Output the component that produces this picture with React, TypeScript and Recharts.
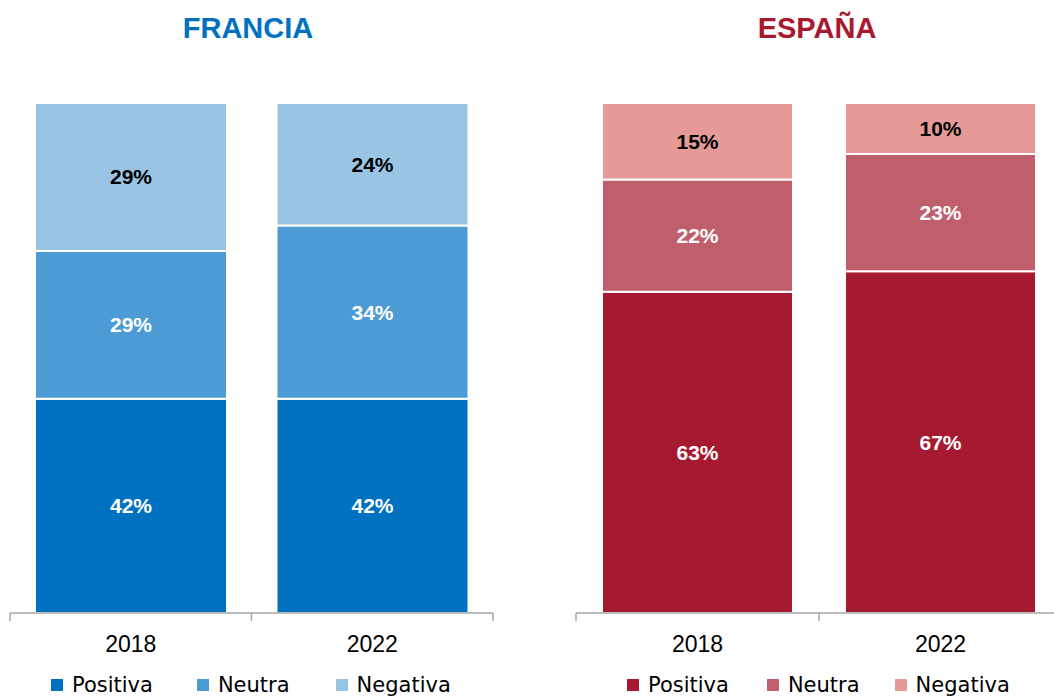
import React from "react";
import { BarChart, Bar, XAxis, YAxis, LabelList } from "recharts";

const years = ["2018", "2022"];
const seriesNames = ["Positiva", "Neutra", "Negativa"];

const franciaPositiva = [42, 42];
const franciaNeutra = [29, 34];
const franciaNegativa = [29, 24];

const espanaPositiva = [63, 67];
const espanaNeutra = [22, 23];
const espanaNegativa = [15, 10];

const blue = ["#0070C0", "#4C9BD4", "#9AC4E4"];
const red = ["#A51931", "#C05F6C", "#E59A98"];
const labelFill = ["#ffffff", "#ffffff", "#000000"];

const AXIS_GRAY = "#A6A6A6";
const H = 696;

type PanelProps = {
  title: string;
  titleColor: string;
  titleCenter: number;
  colors: string[];
  positiva: number[];
  neutra: number[];
  negativa: number[];
  left: number;
  width: number;
  marginLeft: number;
  marginRight: number;
  gap: number;
  legendLeft: number;
  legendGaps: number[];
};

function Panel(p: PanelProps) {
  const data = years.map((y, i) => ({
    year: y,
    Positiva: p.positiva[i],
    Neutra: p.neutra[i],
    Negativa: p.negativa[i],
  }));
  const plotWidth = p.width - p.marginLeft - p.marginRight;
  const band = plotWidth / years.length;

  const Tick = (props: any) => {
    const { x, y, payload, index } = props;
    const edge = x - band / 2;
    return (
      <g>
        <line x1={edge} y1={y} x2={edge} y2={y + 8} stroke={AXIS_GRAY} strokeWidth={1.5} />
        {index === years.length - 1 && (
          <line x1={x + band / 2} y1={y} x2={x + band / 2} y2={y + 8} stroke={AXIS_GRAY} strokeWidth={1.5} />
        )}
        <text
          x={x}
          y={y + 31}
          textAnchor="middle"
          dominantBaseline="central"
          fontFamily="'Liberation Sans', Arial, sans-serif"
          fontSize={23}
          fill="#000"
        >
          {payload.value}
        </text>
      </g>
    );
  };

  return (
    <div style={{ position: "absolute", left: p.left, top: 0, width: p.width, height: H }}>
      <div
        style={{
          position: "absolute",
          top: 11,
          left: p.titleCenter - p.left - 150,
          width: 300,
          textAlign: "center",
          fontFamily: "'Liberation Sans', Arial, sans-serif",
          fontWeight: 700,
          fontSize: 29,
          lineHeight: "35px",
          color: p.titleColor,
        }}
      >
        {p.title}
      </div>
      <BarChart
        width={p.width}
        height={H}
        data={data}
        margin={{ top: 103, right: p.marginRight, bottom: 43, left: p.marginLeft }}
        barCategoryGap={p.gap}
      >
        <XAxis
          dataKey="year"
          height={40}
          axisLine={{ stroke: AXIS_GRAY, strokeWidth: 1.5 }}
          tickLine={false}
          tickSize={0}
          tickMargin={0}
          tick={<Tick />}
          interval={0}
        />
        <YAxis hide domain={[0, 100]} />
        {seriesNames.map((name, i) => (
          <Bar
            key={name}
            dataKey={name}
            stackId="a"
            fill={p.colors[i]}
            stroke="#ffffff"
            strokeWidth={2}
            isAnimationActive={false}
          >
            <LabelList
              dataKey={name}
              position="center"
              formatter={(v: any) => `${v}%`}
              fill={labelFill[i]}
              fontFamily="'Liberation Sans', Arial, sans-serif"
              fontWeight={700}
              fontSize={21}
            />
          </Bar>
        ))}
      </BarChart>
      <div
        style={{
          position: "absolute",
          top: 671,
          left: p.legendLeft - p.left,
          display: "flex",
          alignItems: "center",
          fontFamily: "'DejaVu Sans', sans-serif",
          fontSize: 21,
          lineHeight: "28px",
          color: "#000",
          whiteSpace: "nowrap",
        }}
      >
        {seriesNames.map((name, i) => (
          <div
            key={name}
            style={{ display: "flex", alignItems: "center", marginRight: p.legendGaps[i] }}
          >
            <span
              style={{
                display: "inline-block",
                width: 12,
                height: 12,
                background: p.colors[i],
                marginRight: 9,
              }}
            />
            <span>{name}</span>
          </div>
        ))}
      </div>
    </div>
  );
}

export default function App() {
  return (
    <div
      style={{
        position: "absolute",
        left: 0,
        top: 0,
        width: 1054,
        height: H,
        overflow: "hidden",
        background: "#ffffff",
      }}
    >
      <Panel
        title="FRANCIA"
        titleColor="#0070C0"
        titleCenter={248}
        colors={blue}
        positiva={franciaPositiva}
        neutra={franciaNeutra}
        negativa={franciaNegativa}
        left={0}
        width={527}
        marginLeft={10}
        marginRight={34}
        gap={25}
        legendLeft={51}
        legendGaps={[44, 46, 0]}
      />
      <Panel
        title="ESPAÑA"
        titleColor="#A6192E"
        titleCenter={817}
        colors={red}
        positiva={espanaPositiva}
        neutra={espanaNeutra}
        negativa={espanaNegativa}
        left={527}
        width={540}
        marginLeft={49}
        marginRight={5}
        gap={26}
        legendLeft={627}
        legendGaps={[38, 35, 0]}
      />
    </div>
  );
}
